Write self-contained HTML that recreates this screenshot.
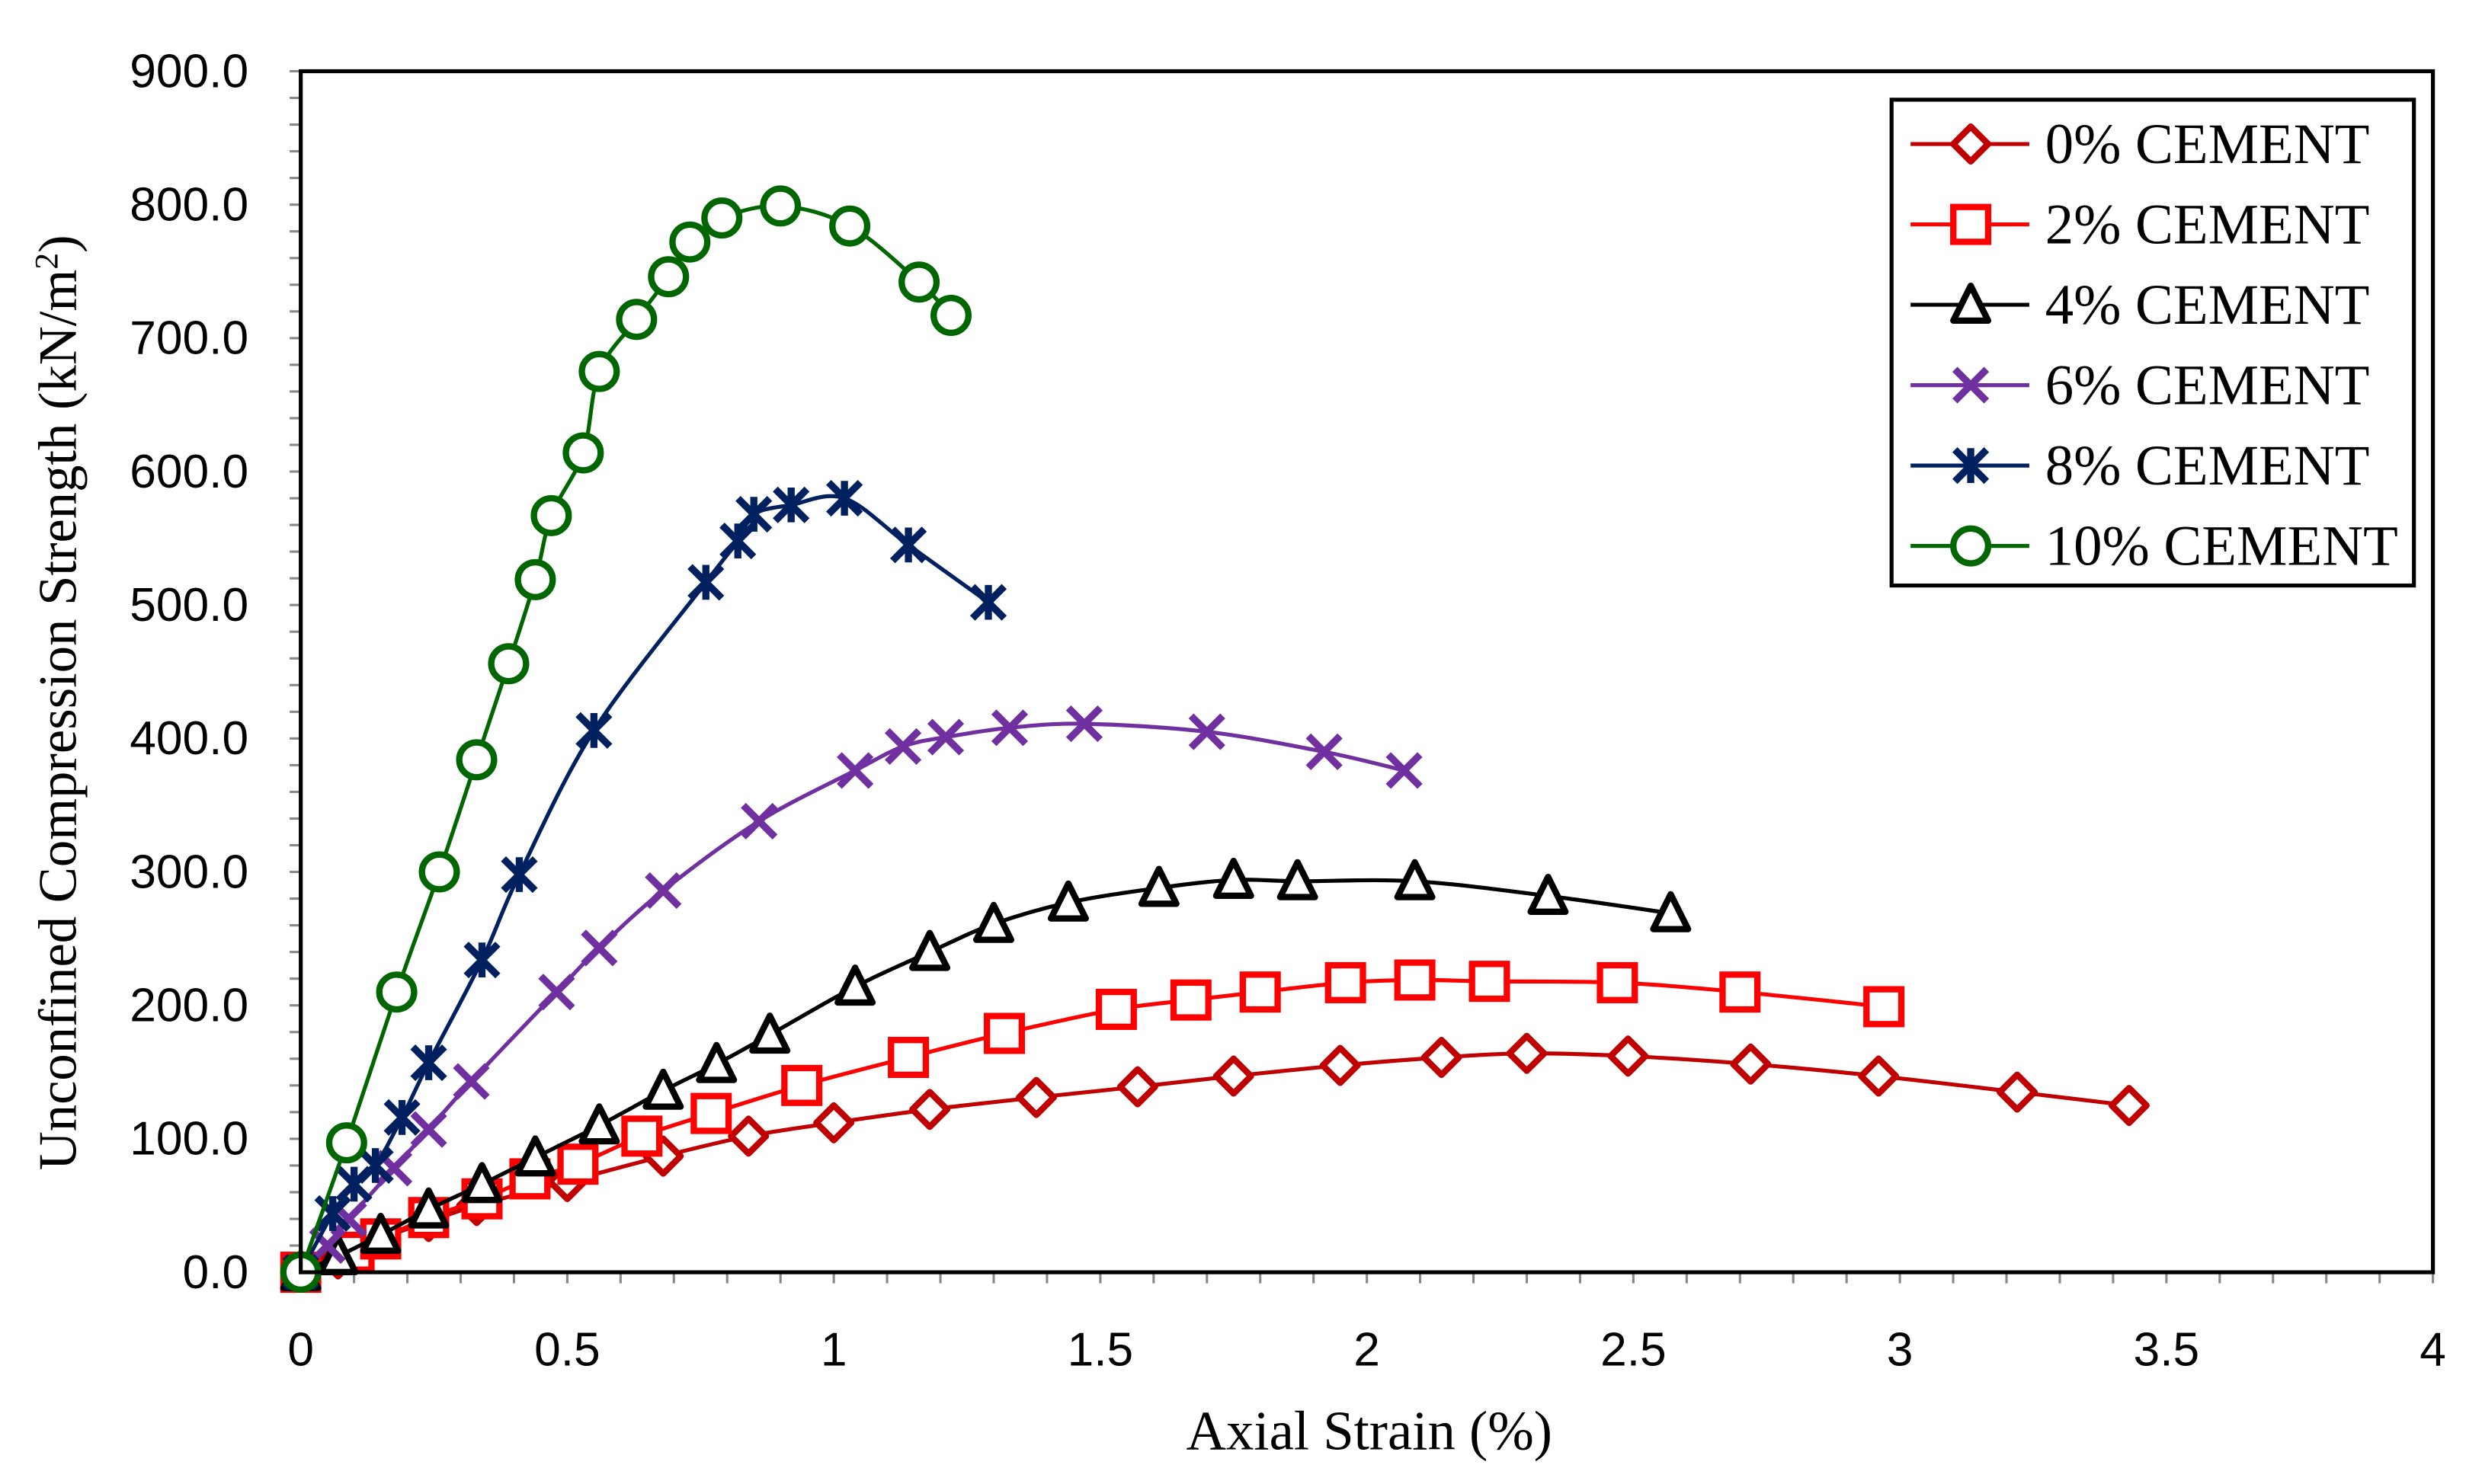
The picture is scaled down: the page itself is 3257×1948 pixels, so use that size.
<!DOCTYPE html>
<html><head><meta charset="utf-8">
<style>html,body{margin:0;padding:0;background:#fff}svg{display:block}</style>
</head><body>
<svg id="chart" xmlns="http://www.w3.org/2000/svg" width="3257" height="1948" viewBox="0 0 1568 937.8">
<rect x="0" y="0" width="1568" height="938" fill="#fff"/>
<g id="ticks"></g>
<g id="series"></g>
<rect x="190" y="45" width="1347" height="759" fill="none" stroke="#000" stroke-width="2.5"/>
<text transform="translate(48,444) rotate(-90)" text-anchor="middle" font-family="Liberation Serif, serif" font-size="34">Unconfined Compression Strength (kN/m<tspan baseline-shift="super" font-size="21">2</tspan>)</text>
<text x="865" y="916" text-anchor="middle" font-family="Liberation Serif, serif" font-size="35">Axial Strain (%)</text>
<g id="legend">
<rect x="1195" y="63" width="330" height="307" fill="#fff" stroke="#000" stroke-width="2.5"/>
</g>
</svg>
<script>
const xTicks = [0,0.5,1,1.5,2,2.5,3,3.5,4];
const xTickLabels = ["0","0.5","1","1.5","2","2.5","3","3.5","4"];
const yTicks = [0,100,200,300,400,500,600,700,800,900];
const yTickLabels = ["0.0","100.0","200.0","300.0","400.0","500.0","600.0","700.0","800.0","900.0"];
const seriesNames = ["0% CEMENT","2% CEMENT","4% CEMENT","6% CEMENT","8% CEMENT","10% CEMENT"];
const s0x = [0,0.07,0.15,0.24,0.33,0.5,0.68,0.84,1.0,1.18,1.38,1.57,1.75,1.95,2.14,2.3,2.49,2.72,2.96,3.22,3.43];
const s0y = [0,10,25,38,50,68,87,102,112,122,131,139,147,155,161,164,162,156,147,135,125];
const s2x = [0,0.1,0.15,0.24,0.34,0.43,0.52,0.64,0.77,0.94,1.14,1.32,1.53,1.67,1.8,1.96,2.09,2.23,2.47,2.7,2.97];
const s2y = [0,15,25,41,55,70,81,102,119,140,161,179,197,204,210,217,219,218,217,210,199];
const s4x = [0,0.07,0.15,0.24,0.34,0.44,0.56,0.68,0.78,0.88,1.04,1.18,1.3,1.44,1.61,1.75,1.87,2.09,2.34,2.57];
const s4y = [0,12,28,47,66,86,110,136,156,178,214,240,261,277,288,294,293,293,282,269];
const s6x = [0,0.05,0.09,0.175,0.24,0.32,0.48,0.56,0.68,0.86,1.04,1.13,1.21,1.33,1.47,1.7,1.92,2.07];
const s6y = [0,20,40,78,107,143,210,243,286,338,376,394,401,408,411,405,390,376];
const s8x = [0,0.06,0.1,0.14,0.19,0.24,0.34,0.41,0.55,0.76,0.82,0.85,0.92,1.02,1.14,1.29];
const s8y = [0,44,66,80,116,157,234,298,406,517,548,568,575,580,545,502];
const s10x = [0,0.086,0.18,0.26,0.33,0.39,0.44,0.47,0.53,0.56,0.63,0.69,0.73,0.79,0.9,1.03,1.16,1.22];
const s10y = [0,97,210,300,384,456,519,567,614,675,714,746,772,790,799,784,742,717];

const NS="http://www.w3.org/2000/svg";
const X0=190,X1=1537,Y0=804,Y1=45;
function sx(v){return X0+(v-0)/(4-0)*(X1-X0);}
function sy(v){return Y0-(v-0)/(900-0)*(Y0-Y1);}
function mk(tag,attrs,parent){const e=document.createElementNS(NS,tag);for(const k in attrs)e.setAttribute(k,attrs[k]);parent.appendChild(e);return e;}

const tg=document.getElementById('ticks');
for(let v=0;v<=900;v+=20){mk('line',{x1:X0-7,x2:X0,y1:sy(v),y2:sy(v),stroke:'#888','stroke-width':1.5},tg);}
for(let i=0;i<=40;i++){const v=i*0.1;mk('line',{x1:sx(v),x2:sx(v),y1:Y0,y2:Y0+7,stroke:'#888','stroke-width':1.5},tg);}
yTicks.forEach((v,i)=>{
  const t=mk('text',{x:157,y:sy(v)+10,'text-anchor':'end','font-family':'Liberation Sans, sans-serif','font-size':30},tg);
  
  
  t.textContent=yTickLabels[i];
});
xTicks.forEach((v,i)=>{
  const t=mk('text',{x:sx(v),y:863,'text-anchor':'middle','font-family':'Liberation Sans, sans-serif','font-size':30},tg);
  
  
  t.textContent=xTickLabels[i];
});

function smoothPath(px,py){
  let d='M'+px[0]+','+py[0];
  for(let i=0;i<px.length-1;i++){
    const p0=i>0?i-1:i,p3=i+2<px.length?i+2:i+1;
    const c1x=px[i]+(px[i+1]-px[p0])/6,c1y=py[i]+(py[i+1]-py[p0])/6;
    const c2x=px[i+1]-(px[p3]-px[i])/6,c2y=py[i+1]-(py[p3]-py[i])/6;
    d+=' C'+c1x+','+c1y+' '+c2x+','+c2y+' '+px[i+1]+','+py[i+1];
  }
  return d;
}
function marker(type,cx,cy,color,g){
  const sw=4;
  if(type==='diamond'){mk('polygon',{points:`${cx},${cy-11} ${cx+11},${cy} ${cx},${cy+11} ${cx-11},${cy}`,fill:'#fff',stroke:color,'stroke-width':sw,'stroke-linejoin':'round'},g);}
  else if(type==='square'){mk('rect',{x:cx-11,y:cy-11,width:22,height:22,fill:'#fff',stroke:color,'stroke-width':sw},g);}
  else if(type==='triangle'){mk('polygon',{points:`${cx},${cy-12} ${cx+11},${cy+10} ${cx-11},${cy+10}`,fill:'#fff',stroke:color,'stroke-width':sw,'stroke-linejoin':'round'},g);}
  else if(type==='x'){mk('path',{d:`M${cx-10},${cy-10}L${cx+10},${cy+10}M${cx+10},${cy-10}L${cx-10},${cy+10}`,stroke:color,'stroke-width':4.5},g);}
  else if(type==='star'){mk('path',{d:`M${cx-10},${cy-10}L${cx+10},${cy+10}M${cx+10},${cy-10}L${cx-10},${cy+10}M${cx},${cy-11}L${cx},${cy+11}`,stroke:color,'stroke-width':4.5},g);}
  else if(type==='circle'){mk('circle',{cx:cx,cy:cy,r:11,fill:'#fff',stroke:color,'stroke-width':sw},g);}
}
const allX=[s0x,s2x,s4x,s6x,s8x,s10x];
const allY=[s0y,s2y,s4y,s6y,s8y,s10y];
const colors=['#C00000','#FF0000','#000000','#7030A0','#002060','#006600'];
const types=['diamond','square','triangle','x','star','circle'];
const sg=document.getElementById('series');
const lg=document.getElementById('legend');
for(let s=0;s<6;s++){
  const g=mk('g',{},sg);
  
  
  const px=allX[s].map(sx),py=allY[s].map(sy);
  const p=mk('path',{d:smoothPath(px,py),fill:'none',stroke:colors[s],'stroke-width':2.5},g);
  
  
  for(let i=0;i<px.length;i++)marker(types[s],px[i],py[i],colors[s],g);
  const ly=91+s*50.8;
  const le=mk('g',{},lg);
  
  
  mk('line',{x1:1207,x2:1282,y1:ly,y2:ly,stroke:colors[s],'stroke-width':2.5},le);
  marker(types[s],1245,ly,colors[s],le);
  const t=mk('text',{x:1292,y:ly+12,'font-family':'Liberation Serif, serif','font-size':36},le);
  t.textContent=seriesNames[s];
}
</script>
</body></html>
